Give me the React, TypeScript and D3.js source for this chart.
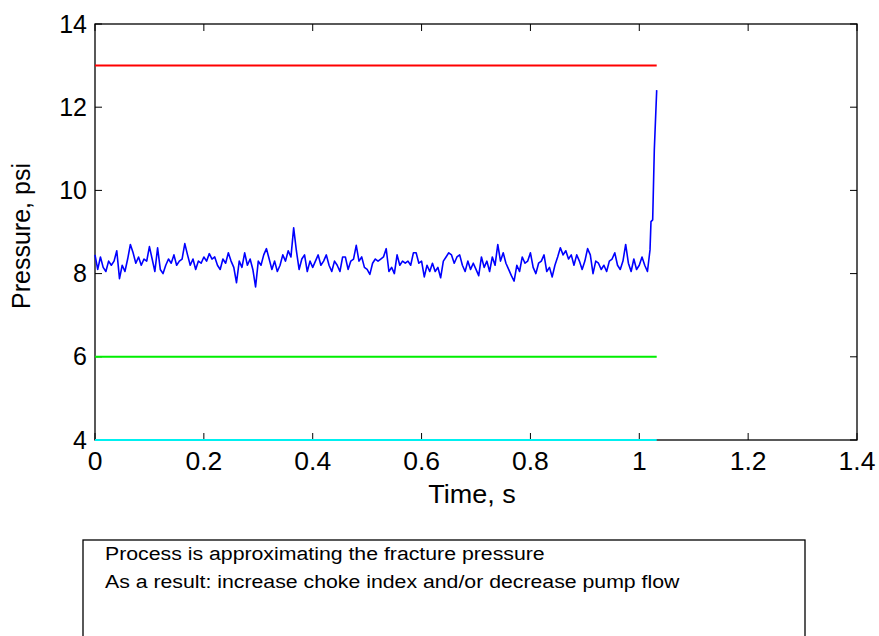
import React from "react";
import * as d3 from "d3";

// ---- data ----
const sampleStep = 0.005; // s, uniform sampling of the pressure signal
const pressureSamples = [
  8.45, 8.1, 8.4, 8.15, 8.05, 8.3, 8.2, 8.3, 8.55, 7.88,
  8.2, 8.05, 8.35, 8.7, 8.5, 8.25, 8.4, 8.2, 8.35, 8.3,
  8.65, 8.35, 8.05, 8.62, 8.1, 8.0, 8.2, 8.35, 8.25, 8.45,
  8.2, 8.3, 8.35, 8.72, 8.45, 8.2, 8.35, 8.1, 8.3, 8.25,
  8.4, 8.3, 8.48, 8.35, 8.4, 8.2, 8.1, 8.35, 8.25, 8.5,
  8.3, 8.15, 7.78, 8.3, 8.15, 8.5, 8.2, 8.35, 8.1, 7.68,
  8.3, 8.2, 8.45, 8.6, 8.35, 8.1, 8.3, 8.05, 8.2, 8.45,
  8.3, 8.55, 8.4, 9.1, 8.55, 8.1, 8.35, 8.45, 8.05, 8.3,
  8.15, 8.3, 8.45, 8.2, 8.3, 8.45, 8.2, 8.05, 8.3, 8.2,
  8.05, 8.4, 8.4, 8.1, 8.3, 8.35, 8.68, 8.3, 8.4, 8.15,
  8.1, 7.98, 8.25, 8.35, 8.3, 8.35, 8.4, 8.6, 8.05, 8.15,
  8.0, 8.45, 8.2, 8.3, 8.25, 8.3, 8.2, 8.5, 8.5, 8.25,
  8.3, 7.92, 8.2, 8.05, 8.25, 8.05, 8.15, 7.9, 8.3, 8.4,
  8.5, 8.45, 8.25, 8.4, 8.45, 8.2, 8.05, 8.3, 8.1, 8.25,
  8.1, 7.95, 8.4, 8.15, 8.3, 8.05, 8.4, 8.2, 8.7, 8.3,
  8.5, 8.25, 8.1, 7.95, 7.82, 8.2, 8.05, 8.4, 8.25, 8.3,
  8.5, 8.15, 8.0, 8.25, 8.3, 8.45, 8.05, 8.15, 7.92, 8.2,
  8.4, 8.62, 8.45, 8.55, 8.35, 8.45, 8.2, 8.45, 8.3, 8.1,
  8.3, 8.6, 8.45, 8.0, 8.3, 8.25, 8.1, 8.2, 8.05, 8.3,
  8.35, 8.5, 8.2, 8.1, 8.3, 8.7, 8.25, 8.05, 8.35, 8.1,
  8.2, 8.4, 8.2, 8.05,
];
const tailTimes = [1.0197, 1.0215, 1.0246, 1.0276, 1.032];
const tailPressures = [8.57, 9.25, 9.29, 10.97, 12.41];

const limitEnd = 1.032;
const fracturePressure = 13;
const porePressure = 6;
const minPressure = 4;

const xTicks = [0, 0.2, 0.4, 0.6, 0.8, 1, 1.2, 1.4];
const yTicks = [4, 6, 8, 10, 12, 14];
const xLabel = "Time, s";
const yLabel = "Pressure, psi";
const messageLines = [
  "Process is approximating the fracture pressure",
  "As a result: increase choke index and/or decrease pump flow",
];

// ---- layout ----
const W = 879, H = 636;
const L = 95, R = 857, T = 24, B = 440;
const FONT = "'Liberation Sans', Arial, Helvetica, sans-serif";

export default function App() {
  const x = d3.scaleLinear().domain([0, 1.4]).range([L, R]);
  const y = d3.scaleLinear().domain([4, 14]).range([B, T]);

  const series: [number, number][] = pressureSamples.map((p, i) => [i * sampleStep, p]);
  tailTimes.forEach((t, i) => series.push([t, tailPressures[i]]));

  const line = d3
    .line<[number, number]>()
    .x((d) => x(d[0]))
    .y((d) => y(d[1]));

  const hLine = (v: number) =>
    line([
      [0, v],
      [limitEnd, v],
    ]) as string;

  const tickLen = 7;

  return (
    <svg
      width={W}
      height={H}
      style={{ position: "absolute", left: 0, top: 0, background: "#fff" }}
      fontFamily={FONT}
    >
      <rect x={0} y={0} width={W} height={H} fill="#fff" />
      {/* plot frame */}
      <rect x={L} y={T} width={R - L} height={B - T} fill="none" stroke="#000" strokeWidth={1.3} />
      {/* ticks */}
      {xTicks.map((t) => (
        <g key={"xt" + t}>
          <line x1={x(t)} x2={x(t)} y1={B} y2={B - tickLen} stroke="#000" strokeWidth={1} />
          <line x1={x(t)} x2={x(t)} y1={T} y2={T + tickLen} stroke="#000" strokeWidth={1} />
          <text
            transform={`translate(${x(t)}, ${B + 30}) scale(1.06, 1)`}
            textAnchor="middle"
            fontSize={25}
            fill="#000"
          >
            {String(t)}
          </text>
        </g>
      ))}
      {yTicks.map((t) => (
        <g key={"yt" + t}>
          <line x1={L} x2={L + tickLen} y1={y(t)} y2={y(t)} stroke="#000" strokeWidth={1} />
          <line x1={R} x2={R - tickLen} y1={y(t)} y2={y(t)} stroke="#000" strokeWidth={1} />
          <text x={L - 8} y={y(t) + 8.5} textAnchor="end" fontSize={25} fill="#000">
            {String(t)}
          </text>
        </g>
      ))}
      {/* limit lines */}
      <path d={hLine(fracturePressure)} stroke="#ff0000" strokeWidth={2} fill="none" />
      <path d={hLine(porePressure)} stroke="#00ee00" strokeWidth={2} fill="none" />
      <path d={hLine(minPressure)} stroke="#00f0f0" strokeWidth={2.2} fill="none" />
      {/* pressure signal */}
      <path d={line(series) as string} stroke="#0000ff" strokeWidth={1.6} fill="none" strokeLinejoin="round" />
      {/* axis labels */}
      <text
        transform={`translate(${(L + R) / 2 - 4}, 503) scale(1.08, 1)`}
        textAnchor="middle"
        fontSize={25}
        fill="#000"
      >
        {xLabel}
      </text>
      <text
        transform={`translate(30, ${(T + B) / 2 + 4}) rotate(-90)`}
        textAnchor="middle"
        fontSize={25}
        fill="#000"
      >
        {yLabel}
      </text>
      {/* message box */}
      <rect x={83} y={540} width={722} height={120} fill="#fff" stroke="#000" strokeWidth={1.3} />
      {messageLines.map((s, i) => (
        <text
          key={i}
          transform={`translate(105, ${560 + i * 28}) scale(1.12, 1)`}
          fontSize={19}
          fill="#000"
        >
          {s}
        </text>
      ))}
    </svg>
  );
}
